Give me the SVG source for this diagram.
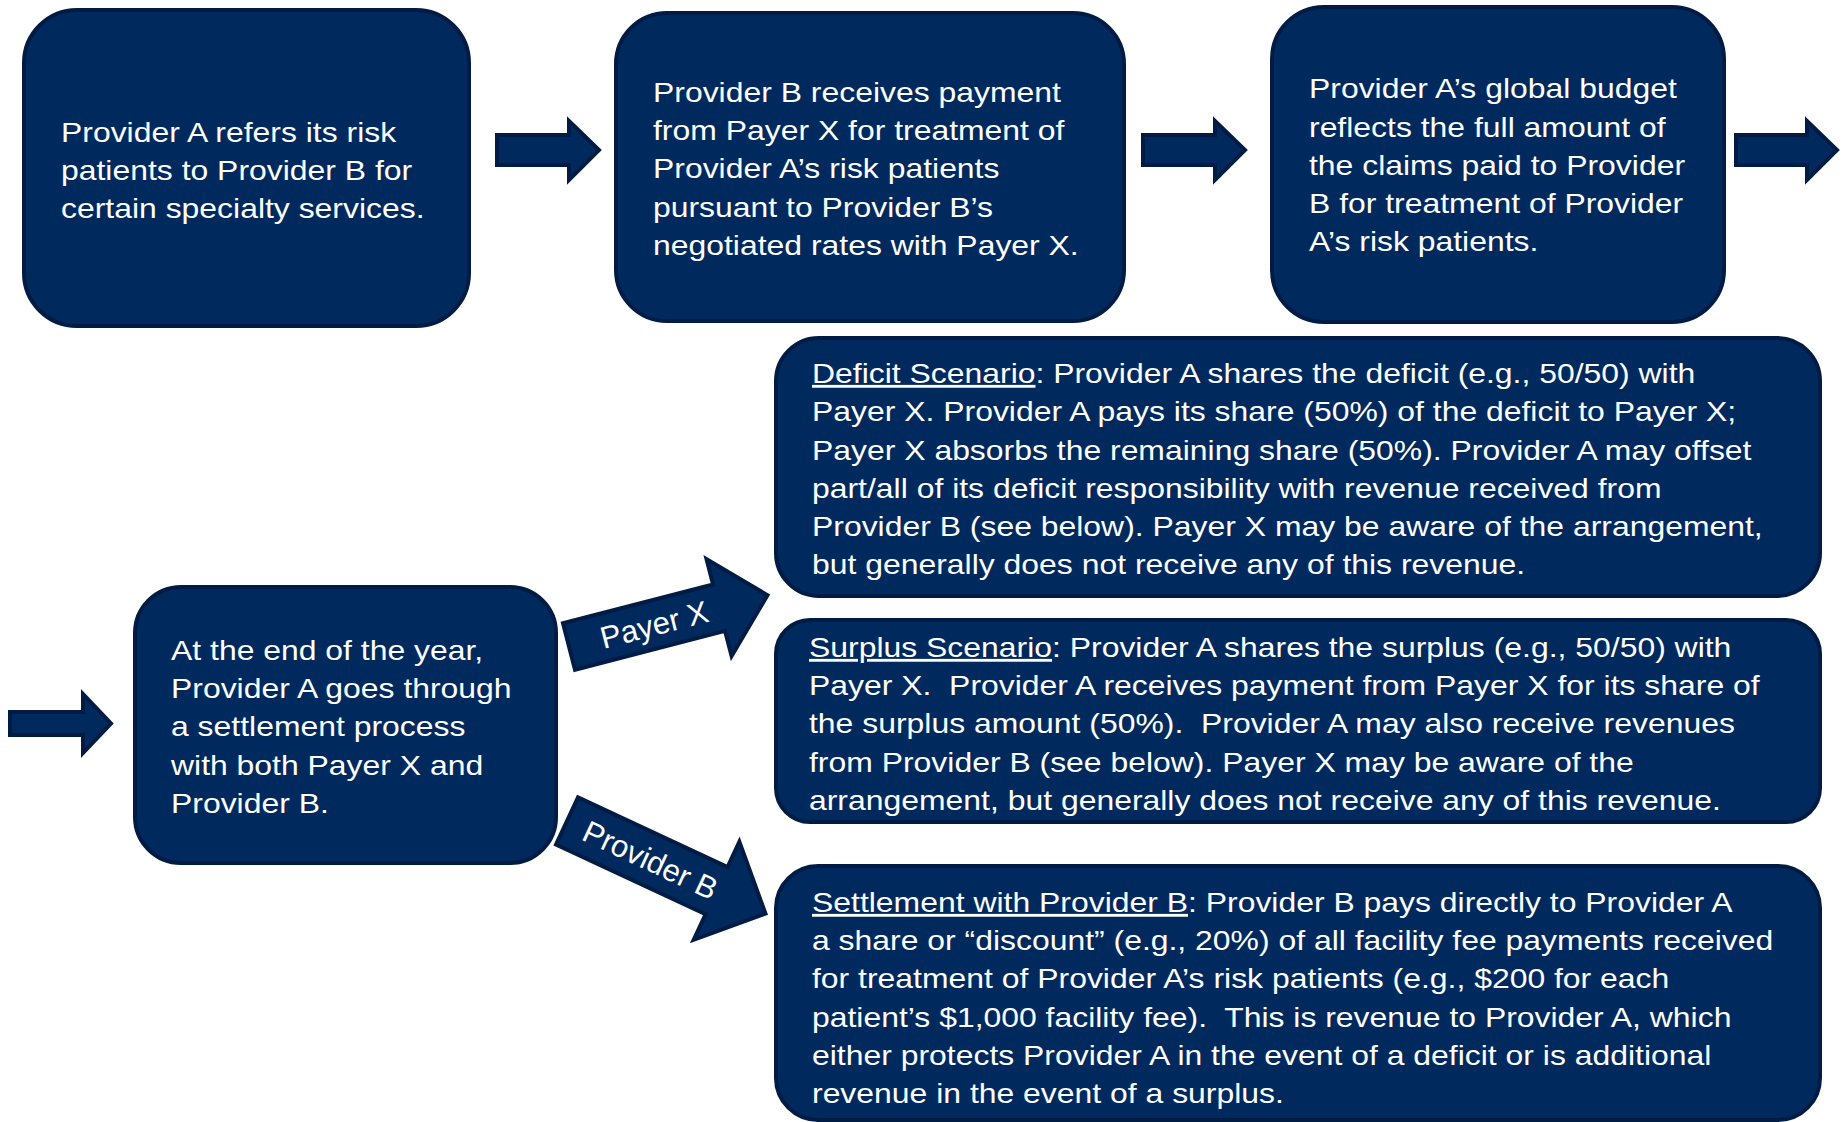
<svg xmlns="http://www.w3.org/2000/svg" width="1844" height="1122" viewBox="0 0 1844 1122">
<style>
.box{fill:#002a5e;stroke:#001b44;stroke-width:4}
.arr{fill:#002a5e;stroke:#001b44;stroke-width:4;stroke-linejoin:miter}
.t{font-family:"Liberation Sans",Arial,sans-serif;font-size:28.5px;fill:#ffffff;white-space:pre}
.al{font-family:"Liberation Sans",Arial,sans-serif;font-size:31px;fill:#ffffff;text-anchor:middle}
.u{text-decoration:underline}
</style>
<rect width="1844" height="1122" fill="#ffffff"/>
<g id="connectors">
  <polygon class="arr" points="497,135 569,135 569,121 599,150 569,180 569,165 497,165"/>
  <polygon class="arr" points="1143,135 1215,135 1215,121 1245,150 1215,180 1215,165 1143,165"/>
  <polygon class="arr" points="1736,135 1807,135 1807,121 1837,150 1807,180 1807,165 1736,165"/>
  <polygon class="arr" points="10,712 83,712 83,694 111,723.5 83,753 83,735 10,735"/>
  <g id="arrow-payer-x" transform="translate(569 646.5) rotate(-14.5)">
    <polygon class="arr" points="0,-24 155,-24 155,-50 205,0 155,50 155,24 0,24"/>
    <text class="al" x="88" y="11">Payer X</text>
  </g>
  <g id="arrow-provider-b" transform="translate(567 821) rotate(25)">
    <polygon class="arr" points="0,-26 165,-26 165,-54 219,0 165,54 165,26 0,26"/>
    <text class="al" x="92" y="11">Provider B</text>
  </g>
</g>
<g id="node-refer">
  <rect class="box" x="24" y="10" width="445" height="316" rx="53" ry="53"/>
  <g transform="translate(61 0) scale(1.12 1)"><text class="t">
    <tspan x="0" y="142">Provider A refers its risk</tspan>
    <tspan x="0" y="180">patients to Provider B for</tspan>
    <tspan x="0" y="218">certain specialty services.</tspan>
  </text></g>
</g>
<g id="node-payment">
  <rect class="box" x="616" y="13" width="508" height="308" rx="51" ry="51"/>
  <g transform="translate(653 0) scale(1.12 1)"><text class="t">
    <tspan x="0" y="102">Provider B receives payment</tspan>
    <tspan x="0" y="140">from Payer X for treatment of</tspan>
    <tspan x="0" y="178">Provider A’s risk patients</tspan>
    <tspan x="0" y="217">pursuant to Provider B’s</tspan>
    <tspan x="0" y="255">negotiated rates with Payer X.</tspan>
  </text></g>
</g>
<g id="node-budget">
  <rect class="box" x="1272" y="7" width="452" height="315" rx="52" ry="52"/>
  <g transform="translate(1309 0) scale(1.12 1)"><text class="t">
    <tspan x="0" y="98">Provider A’s global budget</tspan>
    <tspan x="0" y="137">reflects the full amount of</tspan>
    <tspan x="0" y="175">the claims paid to Provider</tspan>
    <tspan x="0" y="213">B for treatment of Provider</tspan>
    <tspan x="0" y="251">A’s risk patients.</tspan>
  </text></g>
</g>
<g id="node-settlement-process">
  <rect class="box" x="135" y="587" width="421" height="276" rx="46" ry="46"/>
  <g transform="translate(171 0) scale(1.12 1)"><text class="t">
    <tspan x="0" y="660">At the end of the year,</tspan>
    <tspan x="0" y="698">Provider A goes through</tspan>
    <tspan x="0" y="736">a settlement process</tspan>
    <tspan x="0" y="775">with both Payer X and</tspan>
    <tspan x="0" y="813">Provider B.</tspan>
  </text></g>
</g>
<g id="node-deficit">
  <rect class="box" x="776" y="338" width="1044" height="258" rx="43" ry="43"/>
  <g transform="translate(812 0) scale(1.12 1)"><text class="t">
    <tspan x="0" y="383"><tspan class="u">Deficit Scenario</tspan>: Provider A shares the deficit (e.g., 50/50) with</tspan>
    <tspan x="0" y="421">Payer X. Provider A pays its share (50%) of the deficit to Payer X;</tspan>
    <tspan x="0" y="460">Payer X absorbs the remaining share (50%). Provider A may offset</tspan>
    <tspan x="0" y="498">part/all of its deficit responsibility with revenue received from</tspan>
    <tspan x="0" y="536">Provider B (see below). Payer X may be aware of the arrangement,</tspan>
    <tspan x="0" y="574">but generally does not receive any of this revenue.</tspan>
  </text></g>
</g>
<g id="node-surplus">
  <rect class="box" x="776" y="620" width="1044" height="202" rx="34" ry="34"/>
  <g transform="translate(809 0) scale(1.12 1)"><text class="t">
    <tspan x="0" y="657"><tspan class="u">Surplus Scenario</tspan>: Provider A shares the surplus (e.g., 50/50) with</tspan>
    <tspan x="0" y="695">Payer X.  Provider A receives payment from Payer X for its share of</tspan>
    <tspan x="0" y="733">the surplus amount (50%).  Provider A may also receive revenues</tspan>
    <tspan x="0" y="772">from Provider B (see below). Payer X may be aware of the</tspan>
    <tspan x="0" y="810">arrangement, but generally does not receive any of this revenue.</tspan>
  </text></g>
</g>
<g id="node-provider-b-settlement">
  <rect class="box" x="776" y="866" width="1044" height="254" rx="42" ry="42"/>
  <g transform="translate(812 0) scale(1.12 1)"><text class="t">
    <tspan x="0" y="912"><tspan class="u">Settlement with Provider B</tspan>: Provider B pays directly to Provider A</tspan>
    <tspan x="0" y="950">a share or “discount” (e.g., 20%) of all facility fee payments received</tspan>
    <tspan x="0" y="988">for treatment of Provider A’s risk patients (e.g., $200 for each</tspan>
    <tspan x="0" y="1027">patient’s $1,000 facility fee).  This is revenue to Provider A, which</tspan>
    <tspan x="0" y="1065">either protects Provider A in the event of a deficit or is additional</tspan>
    <tspan x="0" y="1103">revenue in the event of a surplus.</tspan>
  </text></g>
</g>
</svg>
